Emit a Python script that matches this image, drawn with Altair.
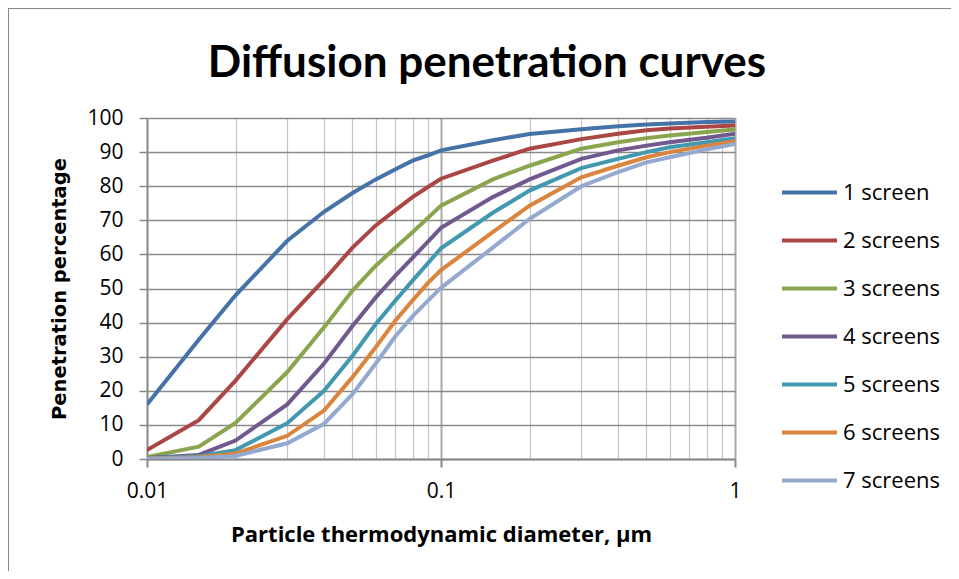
import altair as alt
import pandas as pd

diameters = [0.01, 0.015, 0.02, 0.03, 0.04, 0.05, 0.06, 0.07, 0.08, 0.09, 0.1,
             0.15, 0.2, 0.3, 0.4, 0.5, 0.6, 0.8, 1.0]

screens_1 = [16, 35, 48, 64, 72.5, 78, 82, 85, 87.5, 89, 90.5, 93.5, 95.3, 96.7, 97.6, 98.1, 98.4, 98.8, 99]
screens_2 = [2.6, 11.4, 23, 41, 52.5, 62, 68.5, 73, 76.8, 79.7, 82.2, 87.5, 91, 93.8, 95.4, 96.4, 96.9, 97.4, 97.8]
screens_3 = [0.6, 3.6, 10.6, 25.5, 38.6, 49.4, 56.7, 62, 66.5, 70.6, 74.3, 82, 86, 91, 92.9, 94.1, 94.9, 95.9, 96.6]
screens_4 = [0.3, 1.2, 5.4, 16, 28, 39, 47.4, 53.8, 59, 63.6, 67.8, 76.8, 82, 88, 90.5, 91.9, 92.9, 94.2, 95.4]
screens_5 = [0.2, 0.8, 2.6, 10.5, 20, 30.3, 39.6, 46.5, 52.3, 57.3, 61.8, 72.2, 78.7, 85.3, 88, 90, 91.4, 92.9, 94.1]
screens_6 = [0.1, 0.5, 1.6, 6.8, 14.2, 24, 32.8, 40.6, 46.5, 51.5, 55.4, 66.5, 74.3, 82.6, 86, 88.5, 90, 91.9, 93.2]
screens_7 = [0.05, 0.3, 0.9, 4.6, 10.3, 19, 28, 36, 41.8, 46.3, 50.2, 62, 70.4, 80, 84.1, 87, 88.5, 90.8, 92.4]

series_names = ["1 screen", "2 screens", "3 screens", "4 screens",
                "5 screens", "6 screens", "7 screens"]
series_values = [screens_1, screens_2, screens_3, screens_4,
                 screens_5, screens_6, screens_7]
colors = ["#4572A7", "#AA4643", "#89A54E", "#71588F", "#4198AF", "#DB843D", "#93A9CF"]

x_grid_values = [0.01, 0.02, 0.03, 0.04, 0.05, 0.06, 0.07, 0.08, 0.09,
                 0.1, 0.2, 0.3, 0.4, 0.5, 0.6, 0.7, 0.8, 0.9, 1]
y_tick_values = [0, 10, 20, 30, 40, 50, 60, 70, 80, 90, 100]

rows = []
for name, vals in zip(series_names, series_values):
    for d, v in zip(diameters, vals):
        rows.append({"diameter": d, "penetration": v, "series": name})
df = pd.DataFrame(rows)

decade_test = "indexof([0.01, 0.1, 1], datum.value) >= 0"

lines = alt.Chart(df).mark_line(strokeWidth=4, clip=True).encode(
    x=alt.X(
        "diameter:Q",
        scale=alt.Scale(type="log", domain=[0.01, 1], nice=False),
        axis=alt.Axis(
            values=x_grid_values,
            labelExpr=f"{decade_test} ? toString(datum.value) : ''",
            labelOverlap=False,
            labelFlush=False,
            labelFont="Open Sans",
            labelFontSize=21,
            labelColor="#000000",
            labelPadding=13,
            tickSize=8,
            tickColor={"condition": {"test": decade_test, "value": "#888888"}, "value": "transparent"},
            tickWidth=2,
            domainColor="#888888",
            domainWidth=2,
            gridColor={"condition": {"test": decade_test, "value": "#AAAAAA"}, "value": "#C4C4C4"},
            gridWidth={"condition": {"test": decade_test, "value": 2}, "value": 1.2},
            title="Particle thermodynamic diameter, μm",
            titleFont="Open Sans",
            titleFontSize=22,
            titleFontWeight="bold",
            titleColor="#000000",
            titlePadding=23,
        ),
    ),
    y=alt.Y(
        "penetration:Q",
        scale=alt.Scale(domain=[0, 100], nice=False),
        axis=alt.Axis(
            values=y_tick_values,
            labelFont="Open Sans",
            labelFontSize=21,
            labelColor="#000000",
            labelPadding=16,
            tickSize=8,
            tickColor="#888888",
            tickWidth=1.5,
            domainColor="#888888",
            domainWidth=1.5,
            gridColor="#8A8A8A",
            gridWidth=1.5,
            title="Penetration percentage",
            titleFont="DejaVu Sans",
            titleFontSize=19.5,
            titleFontWeight="bold",
            titleColor="#000000",
            titlePadding=17,
        ),
    ),
    color=alt.Color(
        "series:N",
        scale=alt.Scale(domain=series_names, range=colors),
        legend=alt.Legend(
            title=None,
            orient="none",
            legendX=633,
            legendY=45,
            symbolType="stroke",
            symbolSize=3025,
            symbolStrokeWidth=4,
            labelFont="Open Sans",
            labelFontSize=22,
            labelColor="#000000",
            labelOffset=4,
            rowPadding=7,
            padding=0,
        ),
    ),
)

frame_left = alt.Chart(df).mark_rule(color="#888888", strokeWidth=2).encode(
    x=alt.value(-139), y=alt.value(-110), y2=alt.value(460)
)
frame_top = alt.Chart(df).mark_rule(color="#888888", strokeWidth=2).encode(
    x=alt.value(-139), x2=alt.value(820), y=alt.value(-110)
)

chart = alt.layer(frame_left, frame_top, lines).properties(
    width=588,
    height=341,
    autosize=alt.AutoSizeParams(type="none"),
    padding={"left": 139, "top": 110, "right": 216, "bottom": 112},
    background="#FFFFFF",
    title=alt.TitleParams(
        "Diffusion penetration curves",
        font="Lato",
        fontSize=44,
        fontWeight="bold",
        color="#000000",
        anchor="middle",
        frame="group",
        baseline="alphabetic",
        dx=46,
        offset=-114,
    ),
).configure_view(stroke=None)

chart.save("out.html", embed_options={"renderer": "svg", "actions": False})
